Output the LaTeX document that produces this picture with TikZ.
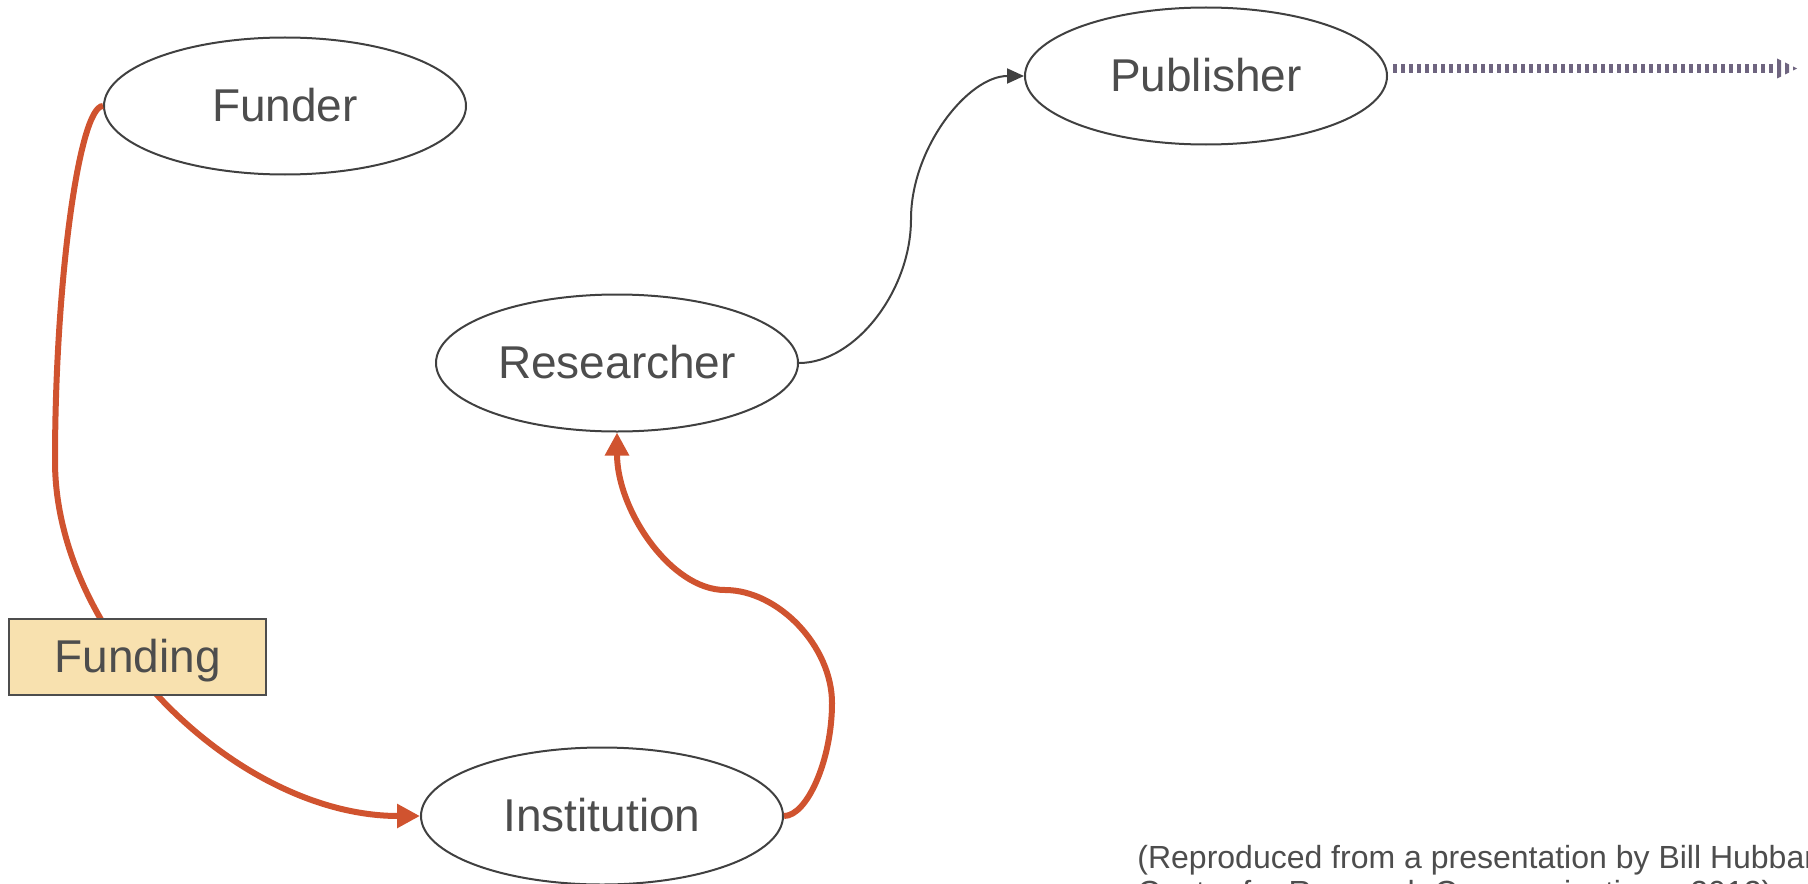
\documentclass[tikz,border=0pt]{standalone}
\usepackage{fontspec}
\setmainfont{Liberation Sans}
\usetikzlibrary{arrows.meta,shapes.geometric}
\definecolor{redc}{HTML}{D0532F}
\definecolor{edgec}{HTML}{404040}
\definecolor{txtc}{HTML}{4D4D4D}
\definecolor{dotc}{HTML}{6F6580}
\definecolor{fundc}{HTML}{F8E1AF}
\begin{document}
\begin{tikzpicture}[x=0.5pt,y=-0.5pt,
  actor/.style={ellipse, draw=edgec, fill=white, line width=1pt, minimum width=181pt,
    minimum height=68.5pt, inner sep=0pt, text=txtc,
    font=\fontsize{23pt}{27pt}\selectfont, text height=20.8pt, text depth=4.9pt},
  flow/.style={draw=redc, line width=3pt, -{Triangle[length=11.5pt,width=11.5pt]}},
  link/.style={draw=edgec, line width=1pt, -{Triangle[length=8.5pt,width=7.5pt]}},
  dotline/.style={draw=dotc, line width=4.3pt, dash pattern=on 1.8pt off 2.2pt},
  labelbox/.style={rectangle, draw=txtc, fill=fundc, line width=1pt, minimum width=128.5pt,
    minimum height=38pt, inner sep=0pt, text=txtc,
    font=\fontsize{23pt}{27pt}\selectfont, text height=20.8pt, text depth=4.9pt},
  note/.style={anchor=north west, inner sep=0pt, align=left, text=txtc,
    font=\fontsize{16pt}{17.5pt}\selectfont}]
\useasboundingbox (0,0) rectangle (1808,883);

\node[actor] (funder) at (285,106) {Funder};
\node[actor] (researcher) at (617,363) {Researcher};
\node[actor] (publisher) at (1206,76) {Publisher};
\node[actor] (institution) at (602,816) {Institution};

% Funder -> Institution
\draw[flow] (funder.west) .. controls (79,106) and (55,284) .. (55,461)
  .. controls (55,638) and (238,816) .. (institution.west);
% Institution -> Researcher
\draw[flow] (institution.east) .. controls (807,816) and (832,760) .. (832,703)
  .. controls (832,646) and (778,590) .. (725,590)
  .. controls (671,590) and (617,510) .. (researcher.south);
% Researcher -> Publisher
\draw[link] (researcher.east) .. controls (855,363) and (911,291) .. (911,219)
  .. controls (911,148) and (968,76) .. (publisher.west);

% dotted outflow
\coordinate (dotend) at (1777,68.5);
\draw[dotline] ([xshift=2.5pt]publisher.east |- dotend) -- ([xshift=-2pt]dotend);
\fill[dotc] (dotend) ++(0,-10) -- ++(4,2) -- ++(0,16) -- ++(-4,2) -- cycle;
\fill[dotc] (dotend) ++(8,-6) -- ++(4,2) -- ++(0,8) -- ++(-4,2) -- cycle;
\fill[dotc] (dotend) ++(16,-2) -- ++(4,2) -- ++(-4,2) -- cycle;

\node[labelbox] (funding) at (137.5,657) {Funding};

\node[note] (credit) at (1137,845) {(Reproduced from a presentation by Bill Hubbard,\\Centre for Research Communications, 2012)};
\end{tikzpicture}
\end{document}
